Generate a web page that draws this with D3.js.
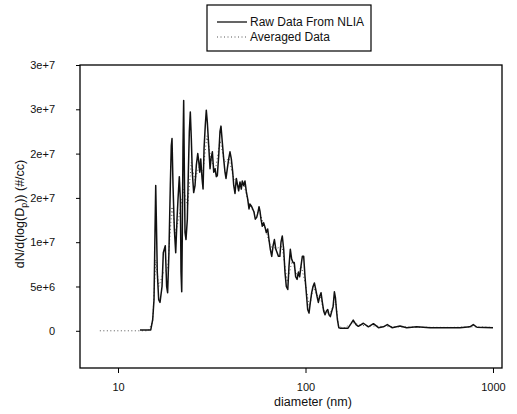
<!DOCTYPE html>
<html>
<head>
<meta charset="utf-8">
<script src="https://cdn.jsdelivr.net/npm/d3@7"></script>
<style>
  body { margin: 0; background: #fff; }
  svg { display: block; font-family: "Liberation Sans", Arial, sans-serif; }
</style>
</head>
<body>
<svg id="canvas" width="517" height="414"></svg>
<script>
"use strict"

// Particle diameters (nm) for the raw NLIA scan
const rawDiameter = [
    13.1, 14.95, 15.31, 15.56, 15.75, 15.89, 16.0, 16.2, 16.48, 16.75,
    17.17, 17.44, 17.87, 18.17, 18.39, 18.69, 19.01, 19.24, 19.41, 19.65,
    19.97, 20.31, 20.64, 20.9, 21.23, 21.5, 21.68, 21.87, 22.03, 22.21,
    22.4, 22.57, 22.77, 23.05, 23.43, 23.72, 24.01, 24.3, 24.6, 24.9,
    25.33, 25.75, 26.17, 26.63, 26.96, 27.29, 27.62, 28.07, 28.42, 28.77,
    29.21, 29.57, 29.94, 30.46, 30.96, 31.34, 31.86, 32.4, 32.92, 33.45,
    33.86, 34.45, 34.99, 35.42, 35.99, 36.61, 37.21, 37.67, 38.28, 38.94,
    39.56, 40.21, 40.91, 41.42, 42.07, 42.76, 43.46, 44.0, 44.73, 45.45,
    46.0, 46.82, 47.56, 48.35, 49.15, 49.97, 50.58, 51.4, 52.3, 53.12,
    53.98, 54.91, 55.82, 56.5, 57.18, 57.89, 58.83, 59.8, 60.81, 61.8,
    62.83, 63.87, 64.92, 66.05, 67.16, 68.26, 69.46, 70.6, 71.76, 72.98,
    74.0, 75.2, 76.5, 77.74, 79.0, 80.45, 81.67, 83.0, 84.35, 85.75,
    87.1, 88.6, 90.2, 91.6, 93.1, 94.6, 96.2, 97.8, 99.4, 101.0,
    102.7, 104.4, 106.1, 107.9, 109.7, 111.5, 113.4, 115.2, 117.1, 119.1,
    121.0, 123.0, 125.1, 127.1, 129.2, 131.4, 133.5, 135.7, 138.0, 140.3,
    142.6, 144.4, 146.2, 148.0, 150.5, 152.8, 168.6, 174.9, 179.7, 186.0,
    191.3, 203.6, 216.5, 230.3, 245.0, 260.1, 273.1, 289.3, 319.2, 346.5,
    391.7, 461.3, 666.8, 753.4, 785.0, 821.6, 1000
];

// dN/dlog(Dp) for the raw scan, in millions per cc
const rawMillions = [
    0.1, 0.1, 1.25, 3.5, 11.1, 16.4, 13.0, 6.6, 3.5, 3.2,
    5.0, 8.8, 9.6, 5.0, 4.3, 8.8, 16.4, 20.9, 21.7, 16.4,
    11.5, 8.8, 12.6, 14.9, 17.4, 14.9, 6.6, 4.4, 11.1, 20.6,
    26.0, 18.7, 11.1, 10.3, 12.6, 17.9, 22.5, 24.7, 21.7, 17.9,
    15.6, 16.4, 18.7, 20.0, 19.1, 17.9, 19.4, 17.2, 16.0, 20.6,
    23.2, 24.9, 23.6, 20.9, 18.3, 19.4, 20.2, 17.9, 18.3, 17.4,
    17.5, 19.8, 22.5, 23.1, 21.3, 19.4, 17.9, 17.2, 18.3, 19.4,
    20.2, 19.4, 17.9, 16.4, 15.5, 17.2, 16.4, 15.8, 16.8, 16.0,
    16.9, 16.4, 16.9, 15.7, 14.9, 13.75, 14.3, 14.1, 13.75, 13.4,
    12.6, 12.8, 13.4, 14.0, 13.5, 12.6, 11.8, 12.2, 11.7, 11.1,
    11.5, 10.3, 9.2, 8.4, 9.6, 10.3, 9.2, 8.8, 8.4, 8.4,
    10.0, 10.7, 9.2, 6.6, 5.0, 4.66, 7.3, 9.2, 8.1, 7.7,
    7.7, 6.1, 5.8, 6.6, 6.1, 7.3, 8.4, 8.4, 6.1, 4.3,
    2.4, 2.0, 3.2, 4.3, 5.0, 5.4, 4.66, 3.9, 3.2, 3.9,
    4.3, 3.2, 2.2, 1.8, 2.2, 2.4, 1.8, 1.6, 2.2, 2.7,
    4.4, 3.75, 2.4, 1.25, 0.35, 0.3, 0.3, 0.8, 1.2, 0.7,
    0.5, 0.85, 0.45, 0.8, 0.35, 0.45, 0.7, 0.35, 0.55, 0.35,
    0.45, 0.35, 0.35, 0.45, 0.7, 0.4, 0.35
];

// Averaged curve (coarser sampling)
const avgDiameter = [
    8, 10, 12, 14.5, 15.3, 15.9, 16.5, 17.4, 18.4, 19.4,
    20.3, 21.2, 22.4, 23.5, 24.6, 25.7, 27, 28.4, 29.8, 31.3,
    33, 35, 37, 39, 41, 44, 47, 50, 53, 57,
    61, 65, 70, 75, 80, 85, 90, 95, 100, 105,
    110, 115, 120, 125, 130, 135, 140, 145, 150, 160,
    180, 200, 250, 300, 400, 600, 800, 1000
];
const avgMillions = [
    0, 0, 0, 0, 1, 8, 5, 6.5, 7, 14,
    11, 13, 16, 14, 19, 17, 18.5, 18, 22, 19.5,
    18, 21.5, 19, 19.5, 17.5, 16.3, 16.4, 14.3, 13.4, 13.3,
    11.6, 9.5, 9.3, 9.5, 5.5, 8, 6.2, 7.3, 5.2, 2.6,
    5, 4, 3.8, 2.3, 2.1, 1.8, 2.8, 3.3, 0.5, 0.3,
    0.9, 0.6, 0.5, 0.45, 0.4, 0.38, 0.45, 0.38
];

const xTicks = [10, 100, 1000];
const yTicks = [0, 5e6, 1e7, 1.5e7, 2e7, 2.5e7, 3e7];
const yTickLabels = ["0", "5e+6", "1e+7", "2e+7", "2e+7", "3e+7", "3e+7"];
const legendLabels = ["Raw Data From NLIA", "Averaged Data"];

let drawing = d3.select("#canvas");

// plot frame edges
let plotLeft = 80, plotRight = 502, plotTop = 65, plotBottom = 368;

let x = d3.scaleLog().domain([6.27, 1117]).range([plotLeft, plotRight]);
let y = d3.scaleLinear().domain([-4.2e6, 3e7]).range([plotBottom, plotTop]);

let rawData = rawDiameter.map((d, i) => [d, rawMillions[i] * 1e6]);
let avgData = avgDiameter.map((d, i) => [d, avgMillions[i] * 1e6]);

let line = d3.line()
    .x(d => x(d[0]))
    .y(d => y(d[1]));

/* averaged data - dotted */
drawing.append("path")
    .datum(avgData)
    .attr("d", line)
    .attr("fill", "none")
    .attr("stroke", "#555")
    .attr("stroke-width", 1)
    .attr("stroke-dasharray", "1,2.5");

/* raw data - solid */
drawing.append("path")
    .datum(rawData)
    .attr("d", line)
    .attr("fill", "none")
    .attr("stroke", "#111")
    .attr("stroke-width", 1.5)
    .attr("stroke-linejoin", "round");

/* frame */
drawing.append("rect")
    .attr("x", plotLeft)
    .attr("y", plotTop)
    .attr("width", plotRight - plotLeft)
    .attr("height", plotBottom - plotTop)
    .attr("fill", "none")
    .attr("stroke", "black")
    .attr("stroke-width", 1.3);

/* y axis */
let yAxis = drawing.append("g")
    .attr("transform", "translate(" + plotLeft + ",0)")
    .call(d3.axisLeft(y)
        .tickValues(yTicks)
        .tickFormat((d, i) => yTickLabels[i])
        .tickSize(4)
        .tickPadding(21));
yAxis.select(".domain").remove();
yAxis.selectAll("text")
    .attr("font-size", 11)
    .attr("font-family", "Liberation Sans, Arial, sans-serif")
    .attr("fill", "#111");

/* x axis */
let xAxis = drawing.append("g")
    .attr("transform", "translate(0," + plotBottom + ")")
    .call(d3.axisBottom(x)
        .tickValues(xTicks)
        .tickFormat(d3.format("d"))
        .tickSize(5)
        .tickPadding(10));
xAxis.select(".domain").remove();
xAxis.selectAll("text")
    .attr("font-size", 11)
    .attr("font-family", "Liberation Sans, Arial, sans-serif")
    .attr("fill", "#111");

/* axis titles */
drawing.append("text")
    .attr("x", 313)
    .attr("y", 406)
    .attr("text-anchor", "middle")
    .attr("font-size", 12.5)
    .attr("fill", "#111")
    .text("diameter (nm)");

let yTitle = drawing.append("text")
    .attr("transform", "translate(24,214) rotate(-90)")
    .attr("text-anchor", "middle")
    .attr("font-size", 12.5)
    .attr("fill", "#111");
yTitle.append("tspan").text("dN/d(log(D");
yTitle.append("tspan").attr("font-size", 9).attr("dy", 3).text("p");
yTitle.append("tspan").attr("dy", -3).text(")) (#/cc)");

/* legend */
let legend = drawing.append("g");
legend.append("rect")
    .attr("x", 207)
    .attr("y", 5)
    .attr("width", 164)
    .attr("height", 46)
    .attr("fill", "white")
    .attr("stroke", "black")
    .attr("stroke-width", 1.2);

legend.append("line")
    .attr("x1", 217).attr("y1", 22)
    .attr("x2", 247).attr("y2", 22)
    .attr("stroke", "#111")
    .attr("stroke-width", 1.3);

legend.append("line")
    .attr("x1", 217).attr("y1", 37)
    .attr("x2", 247).attr("y2", 37)
    .attr("stroke", "#555")
    .attr("stroke-width", 1)
    .attr("stroke-dasharray", "1,2.5");

legend.selectAll("text.entry")
    .data(legendLabels)
    .enter()
    .append("text")
    .attr("class", "entry")
    .attr("x", 250)
    .attr("y", (d, i) => 26 + i * 15)
    .attr("font-size", 12)
    .attr("fill", "#111")
    .text(d => d);
</script>
</body>
</html>
